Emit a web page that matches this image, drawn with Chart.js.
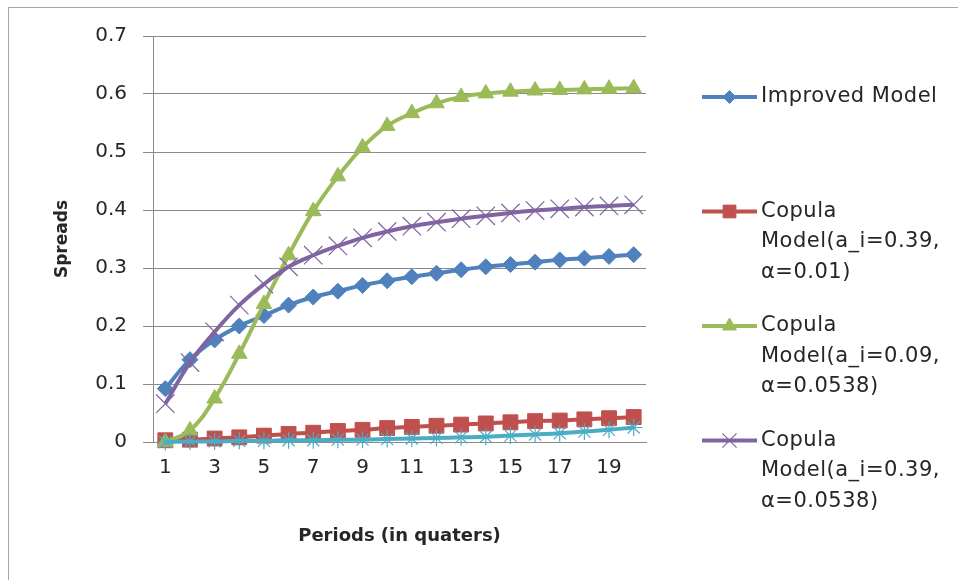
<!DOCTYPE html>
<html>
<head>
<meta charset="utf-8">
<script src="https://cdn.jsdelivr.net/npm/chart.js@4/dist/chart.umd.min.js"></script>
<style>
  html, body { margin: 0; padding: 0; background: #ffffff; }
  #wrap { position: relative; width: 958px; height: 580px; overflow: hidden; }
  #c { position: absolute; left: 0; top: 0; }
  #frame { position: absolute; left: 8px; top: 7px; width: 960px; height: 580px;
           border-left: 1px solid #a6a6a6; border-top: 1px solid #a6a6a6; pointer-events: none; }
</style>
</head>
<body>
<div id="wrap">
  <canvas id="c" width="958" height="580"></canvas>
  <div id="frame"></div>
</div>
<script>
// Quarterly periods on the category axis
const periods = [1, 2, 3, 4, 5, 6, 7, 8, 9, 10, 11, 12, 13, 14, 15, 16, 17, 18, 19, 20];

// Value-axis labels, one per 0.1 step
const yTickLabels = ['0', '0.1', '0.2', '0.3', '0.4', '0.5', '0.6', '0.7'];

// Series names (the fifth series carries no legend entry)
const seriesNames = [
  'Improved Model',
  'Copula Model(a_i=0.39, \u03b1=0.01)',
  'Copula Model(a_i=0.09, \u03b1=0.0538)',
  'Copula Model(a_i=0.39, \u03b1=0.0538)',
  ''
];

// Spreads per period
const improvedModel = [0.092, 0.142, 0.176, 0.200, 0.218, 0.236, 0.250, 0.260, 0.270, 0.278,
                       0.285, 0.291, 0.297, 0.302, 0.306, 0.310, 0.314, 0.317, 0.320, 0.323];
const copulaA039a001 = [0.003, 0.004, 0.006, 0.008, 0.011, 0.014, 0.016, 0.019, 0.021, 0.024,
                        0.026, 0.028, 0.030, 0.032, 0.034, 0.036, 0.037, 0.039, 0.041, 0.043];
const copulaA009a0538 = [0.000, 0.020, 0.075, 0.152, 0.238, 0.322, 0.398, 0.458, 0.508, 0.545,
                         0.567, 0.584, 0.595, 0.601, 0.604, 0.606, 0.607, 0.608, 0.609, 0.610];
const copulaA039a0538 = [0.066, 0.137, 0.190, 0.236, 0.272, 0.302, 0.322, 0.338, 0.352, 0.363,
                         0.372, 0.379, 0.385, 0.390, 0.395, 0.399, 0.402, 0.405, 0.407, 0.409];
const fifthSeries = [0.000, 0.001, 0.001, 0.002, 0.002, 0.003, 0.003, 0.004, 0.004, 0.005,
                     0.006, 0.007, 0.008, 0.009, 0.011, 0.013, 0.015, 0.018, 0.021, 0.025];

const FONT = '"DejaVu Sans", "Liberation Sans", sans-serif';
const TEXT = '#262626';
const GRID = '#8a8a8a';

function series(label, data, color, style, radius, legendRadius, borderW, order) {
  return {
    label: label,
    data: data,
    borderColor: color,
    backgroundColor: color,
    borderWidth: 4,
    tension: 0.4,
    pointStyle: style,
    pointRadius: radius,
    pointBackgroundColor: color,
    pointBorderColor: color,
    pointBorderWidth: borderW,
    legendRadius: legendRadius,
    clip: false,
    order: order
  };
}

// Word-wrap a legend name to a maximum width
function wrapText(ctx, text, maxWidth) {
  const words = text.split(' ');
  const lines = [];
  let line = '';
  words.forEach(w => {
    const test = line ? line + ' ' + w : w;
    if (line && ctx.measureText(test).width > maxWidth) {
      lines.push(line);
      line = w;
    } else {
      line = test;
    }
  });
  if (line) lines.push(line);
  return lines;
}

// Legend drawn to the right of the plot, entries stacked with wrapped names
const sideLegend = {
  id: 'sideLegend',
  afterDraw(chart) {
    const ctx = chart.ctx;
    const lineH = 30.5;
    const step = 114.5;
    const lineX0 = 702, lineX1 = 757, textX = 761;
    let y = 97;
    ctx.save();
    ctx.font = '21px ' + FONT;
    if ('letterSpacing' in ctx) ctx.letterSpacing = '0.5px';
    ctx.textBaseline = 'middle';
    ctx.textAlign = 'left';
    chart.data.datasets.forEach(ds => {
      if (!ds.label) return;
      ctx.strokeStyle = ds.borderColor;
      ctx.lineWidth = 4;
      ctx.beginPath();
      ctx.moveTo(lineX0, y);
      ctx.lineTo(lineX1, y);
      ctx.stroke();
      ctx.fillStyle = ds.pointBackgroundColor;
      ctx.strokeStyle = ds.pointBorderColor;
      ctx.lineWidth = ds.pointBorderWidth;
      Chart.helpers.drawPoint(ctx, {
        pointStyle: ds.pointStyle,
        radius: ds.legendRadius,
        borderWidth: ds.pointBorderWidth,
        rotation: 0
      }, (lineX0 + lineX1) / 2, y);
      ctx.fillStyle = TEXT;
      const lines = wrapText(ctx, ds.label, 200);
      lines.forEach((ln, k) => ctx.fillText(ln, textX, y + k * lineH));
      y += step;
    });
    ctx.restore();
  }
};

const datasets = [
  series(seriesNames[0], improvedModel,   '#4F81BD', 'rectRot',  8,    6.5, 1,   5),
  series(seriesNames[1], copulaA039a001,  '#C0504D', 'rect',     10.5, 9,   1,   4),
  series(seriesNames[2], copulaA009a0538, '#9BBB59', 'triangle', 9,    8,   1,   3),
  series(seriesNames[3], copulaA039a0538, '#8064A2', 'crossRot', 13,   10,  1.2, 2),
  series(seriesNames[4], fifthSeries,     '#4BACC6', 'star',     8.5,  8,   1.2, 1)
];

new Chart(document.getElementById('c'), {
  type: 'line',
  data: { labels: periods, datasets: datasets },
  plugins: [sideLegend],
  options: {
    responsive: false,
    animation: false,
    layout: { padding: { left: 0, top: 36, right: 312, bottom: 0 } },
    plugins: { legend: { display: false }, tooltip: { enabled: false } },
    scales: {
      x: {
        offset: true,
        grid: { display: false, drawTicks: false },
        border: { display: true, color: GRID, width: 1 },
        ticks: {
          autoSkip: false, maxRotation: 0, padding: 14,
          color: TEXT, font: { family: FONT, size: 20 },
          callback: (v, i) => (i % 2 === 0 ? String(periods[i]) : '')
        },
        title: {
          display: true, text: 'Periods (in quaters)', color: TEXT,
          font: { family: FONT, size: 18, weight: 'bold' },
          padding: { top: 0, bottom: 33 }
        },
        afterFit: s => { s.height = 138; }
      },
      y: {
        min: 0, max: 0.7,
        ticks: {
          stepSize: 0.1, padding: 16, color: TEXT,
          font: { family: FONT, size: 20 },
          callback: v => yTickLabels[Math.round(v * 10)]
        },
        grid: { color: GRID, lineWidth: 1, drawTicks: true, tickLength: 10 },
        border: { display: true, color: GRID, width: 1 },
        title: {
          display: true, text: 'Spreads', color: TEXT,
          font: { family: FONT, size: 17, weight: 'bold' },
          padding: { top: 52, bottom: 0 }
        },
        afterFit: s => { s.width = 153; }
      }
    }
  }
});
</script>
</body>
</html>
